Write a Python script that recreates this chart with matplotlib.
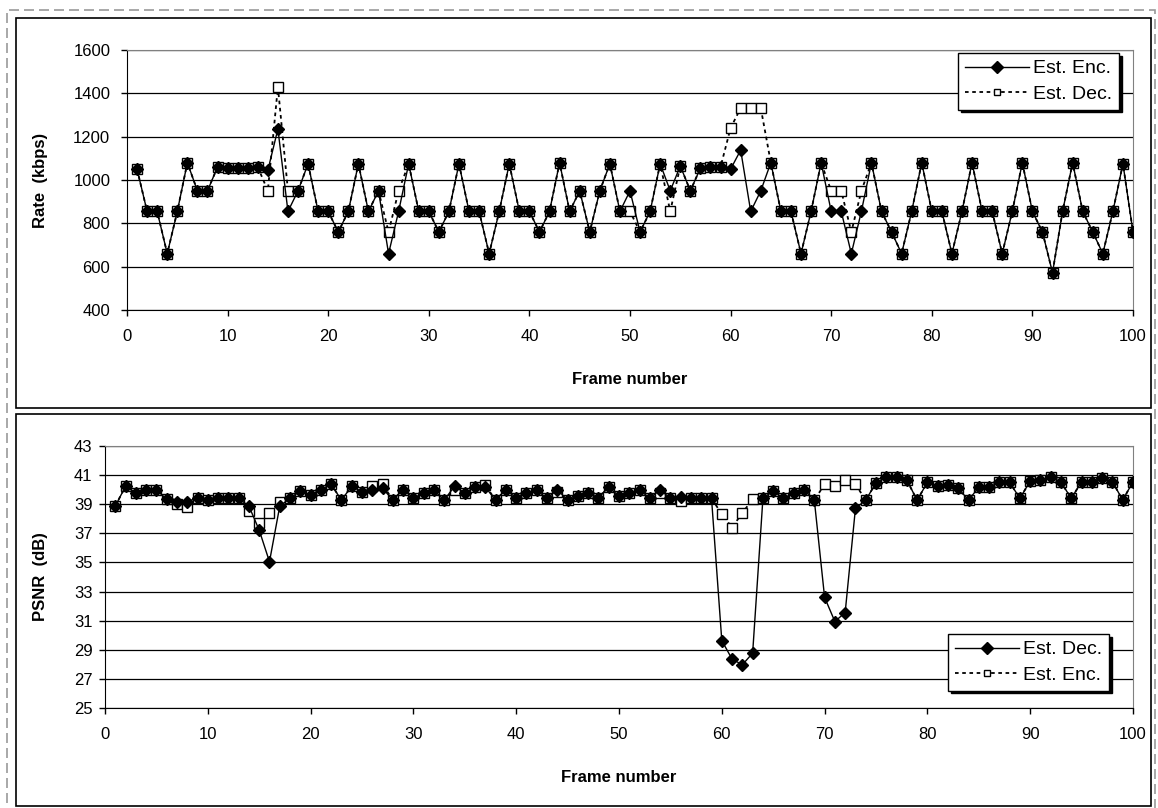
import matplotlib
matplotlib.use("Agg")
import matplotlib.pyplot as plt
from matplotlib.patches import Rectangle
from matplotlib.lines import Line2D

plt.rcParams['font.family'] = ['Liberation Sans', 'DejaVu Sans']

frames = list(range(1, 101))

rate_enc = [1050, 855, 855, 660, 855, 1080, 950, 950, 1060, 1055,
            1055, 1055, 1060, 1045, 1235, 855, 950, 1075, 855, 855,
            760, 855, 1075, 855, 950, 660, 855, 1075, 855, 855,
            760, 855, 1075, 855, 855, 660, 855, 1075, 855, 855,
            760, 855, 1080, 855, 950, 760, 950, 1075, 855, 950,
            760, 855, 1075, 950, 1065, 950, 1055, 1060, 1060, 1050,
            1138, 855, 950, 1080, 855, 855, 660, 855, 1080, 855,
            855, 660, 855, 1080, 855, 760, 660, 855, 1080, 855,
            855, 660, 855, 1080, 855, 855, 660, 855, 1080, 855,
            760, 572, 855, 1080, 855, 760, 660, 855, 1075, 760]

rate_dec = [1050, 855, 855, 660, 855, 1080, 950, 950, 1060, 1055,
            1055, 1055, 1060, 950, 1430, 950, 950, 1075, 855, 855,
            760, 855, 1075, 855, 950, 760, 950, 1075, 855, 855,
            760, 855, 1075, 855, 855, 660, 855, 1075, 855, 855,
            760, 855, 1080, 855, 950, 760, 950, 1075, 855, 855,
            760, 855, 1075, 855, 1065, 950, 1055, 1060, 1060, 1240,
            1332, 1332, 1332, 1080, 855, 855, 660, 855, 1080, 950,
            950, 760, 950, 1080, 855, 760, 660, 855, 1080, 855,
            855, 660, 855, 1080, 855, 855, 660, 855, 1080, 855,
            760, 572, 855, 1080, 855, 760, 660, 855, 1075, 760]

psnr_dec = [38.87, 40.24, 39.78, 40.0, 40.0, 39.33, 39.17, 39.17, 39.44, 39.3,
            39.4, 39.4, 39.4, 38.87, 37.22, 35.05, 38.87, 39.4, 39.92, 39.62,
            40.0, 40.37, 39.28, 40.24, 39.85, 40.0, 40.1, 39.28, 40.0, 39.44,
            39.74, 39.96, 39.28, 40.24, 39.78, 40.17, 40.17, 39.28, 40.0, 39.44,
            39.78, 39.96, 39.4, 40.0, 39.28, 39.56, 39.78, 39.44, 40.17, 39.56,
            39.74, 40.0, 39.4, 40.0, 39.4, 39.5, 39.4, 39.4, 39.4, 29.63,
            28.36, 27.97, 28.77, 39.4, 39.92, 39.4, 39.78, 40.0, 39.28, 32.6,
            30.94, 31.56, 38.71, 39.28, 40.47, 40.88, 40.88, 40.65, 39.28, 40.5,
            40.24, 40.3, 40.1, 39.28, 40.17, 40.17, 40.5, 40.5, 39.4, 40.6,
            40.65, 40.9, 40.5, 39.4, 40.55, 40.55, 40.8, 40.55, 39.28, 40.55]

psnr_enc = [38.87, 40.24, 39.78, 40.0, 40.0, 39.33, 39.0, 38.78, 39.44, 39.3,
            39.4, 39.4, 39.4, 38.55, 37.68, 38.41, 39.16, 39.4, 39.92, 39.62,
            40.0, 40.37, 39.28, 40.24, 39.85, 40.24, 40.37, 39.28, 40.0, 39.44,
            39.74, 39.96, 39.28, 40.0, 39.78, 40.17, 40.3, 39.28, 40.0, 39.44,
            39.78, 39.96, 39.4, 39.85, 39.28, 39.56, 39.78, 39.44, 40.17, 39.56,
            39.74, 40.0, 39.4, 39.74, 39.4, 39.21, 39.4, 39.4, 39.4, 38.32,
            37.4, 38.41, 39.33, 39.4, 39.92, 39.4, 39.78, 40.0, 39.28, 40.37,
            40.24, 40.65, 40.37, 39.28, 40.47, 40.88, 40.88, 40.65, 39.28, 40.5,
            40.24, 40.3, 40.1, 39.28, 40.17, 40.17, 40.5, 40.5, 39.4, 40.6,
            40.65, 40.9, 40.5, 39.4, 40.55, 40.55, 40.8, 40.55, 39.28, 40.55]

W, H = 1158, 808
fig = plt.figure(figsize=(W / 100, H / 100), dpi=100)


def fx(x):
    return x / W


def fy(y):
    return 1 - y / H


# outer dashed border and panel boxes
fig.patches.append(Rectangle((fx(7), fy(815)), fx(1155) - fx(7), fy(10) - fy(815),
                             transform=fig.transFigure, fill=False,
                             edgecolor='#9a9a9a', lw=1.2, ls=(0, (6, 3))))
for (x0, y0, x1, y1) in [(16, 18, 1151, 408), (16, 414, 1151, 806)]:
    fig.patches.append(Rectangle((fx(x0), fy(y1)), fx(x1) - fx(x0), fy(y0) - fy(y1),
                                 transform=fig.transFigure, fill=False,
                                 edgecolor='black', lw=1.2))

ax1 = fig.add_axes([fx(127), fy(310), fx(1133) - fx(127), fy(50) - fy(310)])
ax2 = fig.add_axes([fx(105), fy(708), fx(1133) - fx(105), fy(446) - fy(708)])

dot = (0, (2, 2))


def style(ax, ylim, yticks):
    ax.set_xlim(0, 100)
    ax.set_ylim(*ylim)
    ax.set_xticks(range(0, 101, 10))
    ax.set_yticks(yticks)
    ax.grid(axis='y', color='black', lw=0.9)
    ax.set_axisbelow(True)
    for s in ['top', 'right']:
        ax.spines[s].set_color('#808080')
    for s in ['left', 'bottom']:
        ax.spines[s].set_color('black')
    ax.tick_params(direction='out', length=4, width=1, labelsize=12, colors='black')
    ax.tick_params(axis='x', pad=10)
    ax.set_xlabel('Frame number', fontsize=12, fontweight='bold')


def legend(ax, handles, labels, anchor):
    leg = ax.legend(handles, labels,
                    loc='upper right', bbox_to_anchor=anchor,
                    bbox_transform=fig.transFigure, borderaxespad=0,
                    fancybox=False, edgecolor='black', framealpha=1,
                    shadow={'color': 'black', 'alpha': 1},
                    fontsize=14, handlelength=3.3, handletextpad=0.2,
                    labelspacing=0.4, borderpad=0.35)
    leg.get_frame().set_linewidth(1)
    return leg


# ---- top: rate ----
ax1.plot(frames, rate_dec, color='black', lw=1.3, ls=dot, marker='s', ms=6.5,
         mfc='white', mec='black', mew=1, zorder=3)
ax1.plot(frames, rate_enc, color='black', lw=1, marker='D', ms=6.5,
         mfc='black', mec='black', zorder=4)
style(ax1, (400, 1600), range(400, 1601, 200))
ax1.tick_params(axis='y', pad=8)
ax1.set_ylabel('Rate  (kbps)', fontsize=12, fontweight='bold')
ax1.yaxis.set_label_coords((48 - 127) / 1006, 0.5)
ax1.xaxis.set_label_coords(0.5, -0.238)

h_enc = Line2D([], [], color='black', lw=1, marker='D', ms=6, mfc='black')
h_dec = Line2D([], [], color='black', lw=1.3, ls=dot, marker='s', ms=5,
               mfc='white', mec='black', mew=1)
legend(ax1, [h_enc, h_dec], ['Est. Enc.', 'Est. Dec.'], (fx(1119), fy(53)))

# ---- bottom: PSNR ----
ax2.plot(frames, psnr_enc, color='black', lw=1.3, ls=dot, marker='s', ms=6.5,
         mfc='white', mec='black', mew=1, zorder=3)
ax2.plot(frames, psnr_dec, color='black', lw=1, marker='D', ms=6.5,
         mfc='black', mec='black', zorder=4)
style(ax2, (25, 43), range(25, 44, 2))
ax2.tick_params(axis='y', pad=5)
ax2.set_ylabel('PSNR  (dB)', fontsize=12, fontweight='bold')
ax2.yaxis.set_label_coords((48 - 105) / 1028, 0.5)
ax2.xaxis.set_label_coords(0.5, -0.236)

h_dec2 = Line2D([], [], color='black', lw=1, marker='D', ms=6, mfc='black')
h_enc2 = Line2D([], [], color='black', lw=1.3, ls=dot, marker='s', ms=5,
                mfc='white', mec='black', mew=1)
legend(ax2, [h_dec2, h_enc2], ['Est. Dec.', 'Est. Enc.'], (fx(1109), fy(634)))

fig.savefig('out.png', dpi=100)
